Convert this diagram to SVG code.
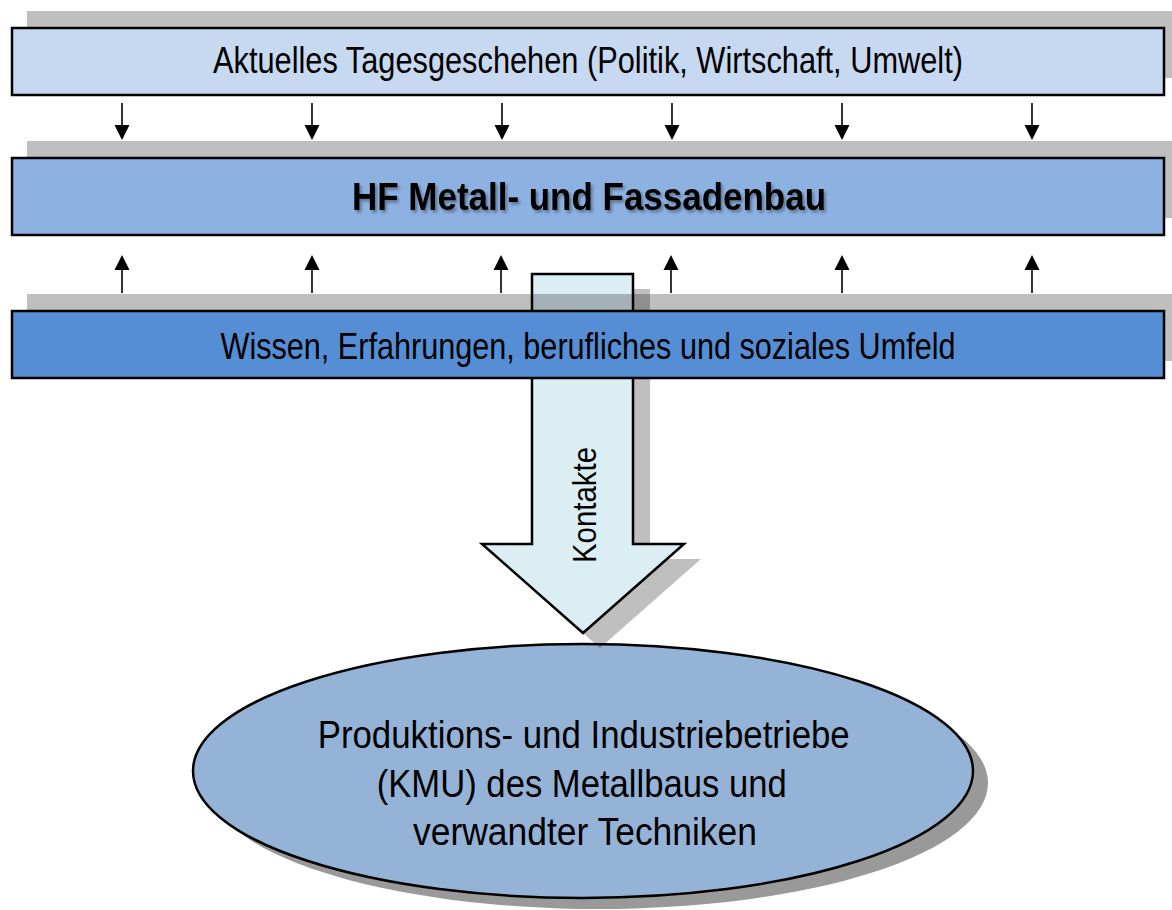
<svg xmlns="http://www.w3.org/2000/svg" width="1172" height="910" viewBox="0 0 1172 910">
  <style>
    .box { stroke: #000; stroke-width: 2.5; }
    .shade { fill: #000; fill-opacity: 0.25; }
    .lbl { font-family: "Liberation Sans", Arial, sans-serif; fill: #000; }
    .conn line { stroke: #000; stroke-width: 1.6; }
    .conn polygon { fill: #000; }
  </style>
  <defs>
    <filter id="tshadow" x="-5%" y="-30%" width="110%" height="160%">
      <feDropShadow dx="2" dy="2.5" stdDeviation="1.5" flood-color="#000" flood-opacity="0.35"/>
    </filter>
  </defs>
  <rect width="1172" height="910" fill="#fff"/>

  <!-- Top band -->
  <g id="tagesgeschehen">
    <rect class="shade" x="27" y="11" width="1160" height="67"/>
    <rect class="box" x="12" y="28" width="1152" height="67" fill="#C6D9F1"/>
    <text class="lbl" x="588" y="73" font-size="36" text-anchor="middle" textLength="750" lengthAdjust="spacingAndGlyphs">Aktuelles Tagesgeschehen (Politik, Wirtschaft, Umwelt)</text>
  </g>

  <!-- Middle band -->
  <g id="hf">
    <rect class="shade" x="27" y="141" width="1160" height="77"/>
    <rect class="box" x="12" y="158" width="1152" height="77" fill="#8DB1E1"/>
    <text class="lbl" x="589" y="209.5" font-size="39" font-weight="bold" text-anchor="middle" textLength="474" lengthAdjust="spacingAndGlyphs" filter="url(#tshadow)">HF Metall- und Fassadenbau</text>
  </g>

  <!-- Ellipse -->
  <g id="betriebe">
    <ellipse cx="598" cy="783" rx="390" ry="126" fill="#999"/>
    <ellipse cx="583" cy="771" rx="390" ry="127" fill="#95B3D7" stroke="#000" stroke-width="2.5"/>
    <text class="lbl" font-size="38" text-anchor="middle">
      <tspan x="589" y="748" textLength="532" lengthAdjust="spacingAndGlyphs">Produktions- und Industriebetriebe</tspan>
      <tspan x="587" y="797" textLength="410" lengthAdjust="spacingAndGlyphs">(KMU) des Metallbaus und</tspan>
      <tspan x="585" y="845" textLength="344" lengthAdjust="spacingAndGlyphs">verwandter Techniken</tspan>
    </text>
  </g>

  <!-- Contacts arrow -->
  <g id="kontakte">
    <polygon class="shade" points="549,289 650,289 650,559 701,559 600,648 499,559 549,559"/>
    <polygon points="532,274 633,274 633,544 684,544 583,633 482,544 532,544" fill="#DBEEF4" stroke="#000" stroke-width="2.5" stroke-linejoin="miter"/>
  </g>

  <!-- Bottom band (drawn over the arrow shaft) -->
  <g id="wissen">
    <rect class="shade" x="27" y="294" width="1160" height="67"/>
    <rect class="box" x="12" y="311" width="1152" height="67" fill="#558ED5"/>
    <text class="lbl" x="588" y="359" font-size="36" text-anchor="middle" textLength="735" lengthAdjust="spacingAndGlyphs">Wissen, Erfahrungen, berufliches und soziales Umfeld</text>
  </g>

  <text class="lbl" font-size="34" text-anchor="middle" textLength="116" lengthAdjust="spacingAndGlyphs" transform="translate(596,505) rotate(-90)" x="0" y="0">Kontakte</text>

  <!-- Connectors -->
  <g class="conn" id="connectors">
    <g id="down">
      <line x1="122" y1="103" x2="122" y2="127"/><polygon points="114.5,125 129.5,125 122,140"/>
      <line x1="312" y1="103" x2="312" y2="127"/><polygon points="304.5,125 319.5,125 312,140"/>
      <line x1="502" y1="103" x2="502" y2="127"/><polygon points="494.5,125 509.5,125 502,140"/>
      <line x1="672" y1="103" x2="672" y2="127"/><polygon points="664.5,125 679.5,125 672,140"/>
      <line x1="842" y1="103" x2="842" y2="127"/><polygon points="834.5,125 849.5,125 842,140"/>
      <line x1="1032" y1="103" x2="1032" y2="127"/><polygon points="1024.5,125 1039.5,125 1032,140"/>
    </g>
    <g id="up">
      <line x1="122" y1="293" x2="122" y2="268"/><polygon points="114.5,270 129.5,270 122,255"/>
      <line x1="312" y1="293" x2="312" y2="268"/><polygon points="304.5,270 319.5,270 312,255"/>
      <line x1="501" y1="293" x2="501" y2="268"/><polygon points="493.5,270 508.5,270 501,255"/>
      <line x1="671" y1="293" x2="671" y2="268"/><polygon points="663.5,270 678.5,270 671,255"/>
      <line x1="842" y1="293" x2="842" y2="268"/><polygon points="834.5,270 849.5,270 842,255"/>
      <line x1="1032" y1="293" x2="1032" y2="268"/><polygon points="1024.5,270 1039.5,270 1032,255"/>
    </g>
  </g>
</svg>
